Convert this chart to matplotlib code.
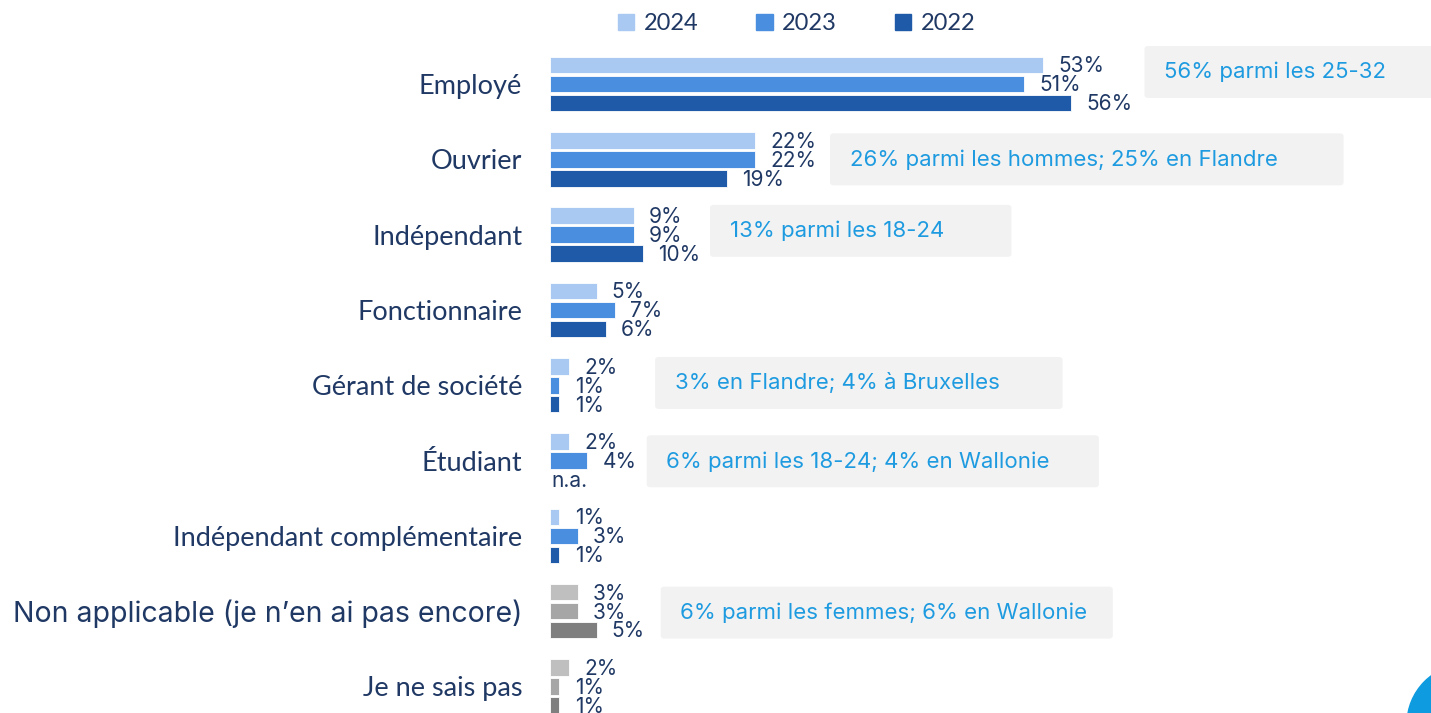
import matplotlib.pyplot as plt
import matplotlib.patches as mpatches
from matplotlib.patches import FancyBboxPatch, Ellipse

categories = ['Employé', 'Ouvrier', 'Indépendant', 'Fonctionnaire', 'Gérant de société',
              'Étudiant', 'Indépendant complémentaire',
              'Non applicable (je n\u2019en ai pas encore)', 'Je ne sais pas']
years = ['2024', '2023', '2022']
v2024 = [53, 22, 9, 5, 2, 2, 1, 3, 2]
v2023 = [51, 22, 9, 7, 1, 4, 3, 3, 1]
v2022 = [56, 19, 10, 6, 1, None, 1, 5, 1]   # None = n.a.

notes = {0: '56% parmi les 25-32',
         1: '26% parmi les hommes; 25% en Flandre',
         2: '13% parmi les 18-24',
         4: '3% en Flandre; 4% à Bruxelles',
         5: '6% parmi les 18-24; 4% en Wallonie',
         7: '6% parmi les femmes; 6% en Wallonie'}
# box placement (x start, x end in %, vertical shift)
note_pos = {0: (63.9, 100, -0.16), 1: (30.1, 85.3, 0.0), 2: (17.2, 49.6, -0.05),
            4: (11.3, 55.1, -0.03), 5: (10.4, 59.0, 0.01), 7: (11.9, 60.5, 0.02)}

blues = ['#a9c8f2', '#4a8ee0', '#1f5aa8']
greys = ['#bfbfbf', '#a6a6a6', '#7f7f7f']
navy = '#1f3864'
note_blue = '#1e9be0'

fig = plt.figure(figsize=(14.31, 7.13), dpi=100)
ax = fig.add_axes([550 / 1431, 0, 881 / 1431, 1])

offsets = [-0.252, 0, 0.252]
series = [v2024, v2023, v2022]
for j, vals in enumerate(series):
    for i, v in enumerate(vals):
        y = i + offsets[j]
        if v is None:
            ax.text(0.1, y + 0.02, 'n.a.', fontsize=15, color=navy, family='Inter',
                    va='center', ha='left')
            continue
        col = greys[j] if i >= 7 else blues[j]
        ax.barh(y, v, height=0.22, color=col, edgecolor='white', linewidth=0.6)
        ax.annotate(f'{v}%', (v, y), xytext=(11, -1), textcoords='offset points',
                    fontsize=15, color=navy, family='Inter', va='center', ha='left')

for i, txt in notes.items():
    x0, x1, dy = note_pos[i]
    box = FancyBboxPatch((x0, i + dy - 0.345), x1 - x0, 0.69,
                         boxstyle='round,pad=0,rounding_size=0.4',
                         mutation_aspect=0.1,
                         facecolor='#f2f2f2', edgecolor='none', zorder=0)
    ax.add_patch(box)
    ax.text(x0 + 2.1, i + dy, txt, fontsize=16, color=note_blue, family='Inter',
            va='center', ha='left')

ax.set_xlim(0, 94.7)
ax.set_ylim(8.353, -1.116)
ax.set_yticks(range(len(categories)))
ax.set_yticklabels(categories, fontsize=19.5, color=navy, family='Lato')
ax.get_yticklabels()[7].set_family('Inter')
ax.get_yticklabels()[7].set_fontsize(20.5)
ax.tick_params(axis='y', length=0, pad=20)
ax.set_xticks([])
for s in ax.spines.values():
    s.set_visible(False)

handles = [mpatches.Patch(color=c) for c in blues]
fig.legend(handles, years, ncol=3, loc='center', bbox_to_anchor=(0.5566, 0.967),
           frameon=False, handlelength=0.7, handleheight=0.7,
           handletextpad=0.4, columnspacing=2.45, labelcolor=navy,
           prop={'family': 'Lato', 'size': 17})

fig.add_artist(Ellipse((1467 / 1431, 1 - 724 / 713), 120 / 1431, 120 / 713,
                       transform=fig.transFigure, color='#0e9be0', clip_on=False))

fig.savefig('out.png', dpi=100)
